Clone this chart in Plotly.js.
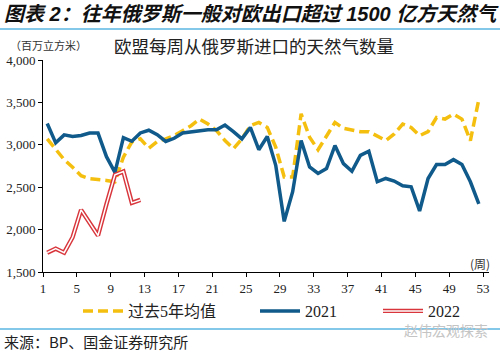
<!DOCTYPE html>
<html><head><meta charset="utf-8">
<script src="https://cdn.plot.ly/plotly-3.0.1.min.js"></script>
<style>html,body{margin:0;padding:0;background:#fff;overflow:hidden}#chart{width:500px;height:352px}</style>
</head><body><div id="chart"></div>
<script>
const weeks = [1,2,3,4,5,6,7,8,9,10,11,12,13,14,15,16,17,18,19,20,21,22,23,24,25,26,
  27,28,29,30,31,32,33,34,35,36,37,38,39,40,41,42,43,44,45,46,47,48,49,50,51,52];
const avg5 = [3070,2940,2825,2735,2635,2600,2595,2580,2565,2855,3035,3070,2960,3040,3070,3108,
  3167,3225,3303,3245,3167,3050,2953,3070,3225,3264,3205,2972,2620,2620,3365,3090,2942,3110,
  3264,3194,3178,3155,3155,3108,3050,3128,3245,3205,3108,3155,3322,3303,3362,3303,3050,3537];
const y2021 = [3252,3023,3117,3097,3110,3138,3138,2860,2675,3085,3042,3140,3172,3120,3040,3077,
  3140,3155,3167,3178,3178,3233,3155,3070,3205,2942,3097,2758,2097,2447,3050,2739,2662,2720,
  2992,2778,2688,2875,2925,2564,2603,2572,2517,2505,2220,2603,2767,2767,2825,2767,2564,2303];
const weeks2022 = [1,2,3,4,5,6,7,8,9,10,11,12];
const y2022 = [1728,1775,1728,1910,2233,2078,1930,2300,2645,2685,2315,2350];
const xTickLabels = [1,5,9,13,17,21,25,29,33,37,41,45,49,53];
const yTicks = [1500,2000,2500,3000,3500,4000];
const seriesNames = ['过去5年均值','2021','2022'];

const W = 500, H = 352, L = 43, R = 11, T = 60, B = 80;
const pw = W - L - R, ph = H - T - B;
const px = v => (v - L) / pw;          // pixel -> paper x
const py = v => (H - B - v) / ph;      // pixel -> paper y

const serif = 'Liberation Serif, Times New Roman, Noto Sans CJK SC, serif';
const cjk = 'Noto Sans CJK SC, sans-serif';

const traces = [
  {x: weeks, y: avg5, name: seriesNames[0], type: 'scatter', mode: 'lines',
   line: {color: '#f5bf0f', width: 3.5, dash: '10px,5px'}, legend: 'legend'},
  {x: weeks, y: y2021, name: seriesNames[1], type: 'scatter', mode: 'lines',
   line: {color: '#0f5a8a', width: 3.5}, legend: 'legend2'},
  {x: weeks2022, y: y2022, name: seriesNames[2], type: 'scatter', mode: 'lines',
   line: {color: '#d8363c', width: 4.4}, legend: 'legend3'},
  {x: weeks2022, y: y2022, name: ' ', type: 'scatter', mode: 'lines',
   line: {color: '#ffffff', width: 1.5}, legend: 'legend4', hoverinfo: 'skip'}
];

const legendBase = {orientation: 'h', xanchor: 'left', yanchor: 'middle', itemwidth: 40,
  font: {family: serif, size: 16, color: '#222'}, bgcolor: 'rgba(0,0,0,0)', borderwidth: 0};

const layout = {
  width: W, height: H,
  margin: {l: L, r: R, t: T, b: B, pad: 0},
  paper_bgcolor: '#fff', plot_bgcolor: '#fff',
  showlegend: true,
  legend: Object.assign({}, legendBase, {x: px(78), y: py(311)}),
  legend2: Object.assign({}, legendBase, {x: px(255), y: py(311)}),
  legend3: Object.assign({}, legendBase, {x: px(378), y: py(311)}),
  legend4: Object.assign({}, legendBase, {x: px(378), y: py(311)}),
  xaxis: {
    range: [0.5, 53.2], showgrid: false, zeroline: false,
    showline: true, linecolor: '#000', linewidth: 1,
    tickmode: 'array', tickvals: xTickLabels.map(v => v - 0.5), ticktext: xTickLabels.map(String),
    ticks: 'outside', ticklen: 4, tickcolor: '#000', tickwidth: 1,
    tickfont: {family: serif, size: 13, color: '#222'}
  },
  yaxis: {
    range: [1500, 4000], showgrid: false, zeroline: false,
    showline: true, linecolor: '#000', linewidth: 1,
    tickmode: 'array', tickvals: yTicks, ticktext: yTicks.map(v => v.toLocaleString('en-US')),
    ticks: 'outside', ticklen: 4, tickcolor: '#000', tickwidth: 1,
    tickfont: {family: serif, size: 13, color: '#222'}
  },
  shapes: [
    {type: 'line', xref: 'paper', yref: 'paper', x0: px(0), x1: px(500), y0: py(29), y1: py(29),
     line: {color: '#5ab4e2', width: 1.5}},
    {type: 'line', xref: 'paper', yref: 'paper', x0: px(0), x1: px(500), y0: py(329), y1: py(329),
     line: {color: '#5ab4e2', width: 1.5}}
  ],
  annotations: [
    {xref: 'paper', yref: 'paper', x: px(2), y: py(14), xanchor: 'left', yanchor: 'middle', showarrow: false,
     text: '<b><i>图表 2：往年俄罗斯一般对欧出口超过 1500 亿方天然气</i></b>',
     font: {family: 'Liberation Sans, Noto Sans CJK SC, sans-serif', size: 20, color: '#111'}},
    {xref: 'paper', yref: 'paper', x: px(8), y: py(45), xanchor: 'left', yanchor: 'middle', showarrow: false,
     text: '（百万立方米）', font: {family: cjk, size: 11, color: '#333'}},
    {xref: 'paper', yref: 'paper', x: px(112), y: py(45), xanchor: 'left', yanchor: 'middle', showarrow: false,
     text: '欧盟每周从俄罗斯进口的天然气数量', font: {family: cjk, size: 17.5, color: '#222'}},
    {xref: 'paper', yref: 'paper', x: px(492), y: py(263), xanchor: 'right', yanchor: 'middle', showarrow: false,
     text: '(周)', font: {family: cjk, size: 12, color: '#333'}},
    {xref: 'paper', yref: 'paper', x: px(2), y: py(341), xanchor: 'left', yanchor: 'middle', showarrow: false,
     text: '来源：BP、国金证券研究所', font: {family: cjk, size: 15, color: '#222'}},
    {xref: 'paper', yref: 'paper', x: px(402), y: py(330), xanchor: 'left', yanchor: 'middle', showarrow: false,
     text: '赵伟宏观探索', font: {family: cjk, size: 14, color: '#c4c4c4'}}
  ]
};

Plotly.newPlot('chart', traces, layout, {displayModeBar: false, staticPlot: true});
</script>
</body></html>
